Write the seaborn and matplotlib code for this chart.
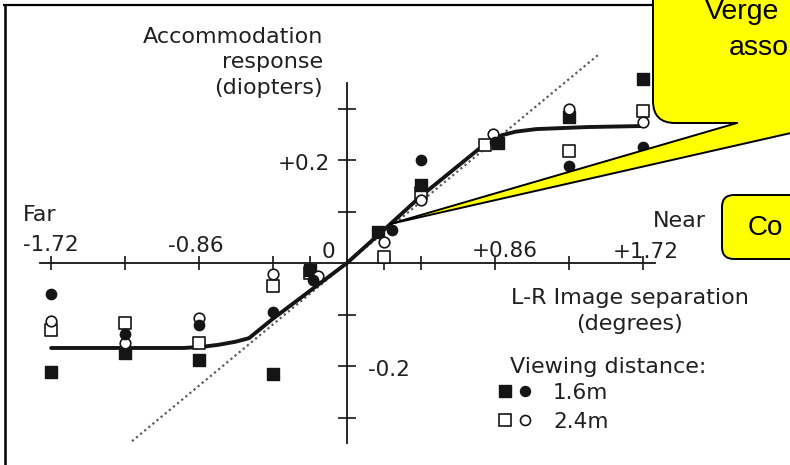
import matplotlib
matplotlib.use("Agg")
import matplotlib.pyplot as plt
from matplotlib.patches import FancyBboxPatch, Polygon
from matplotlib.lines import Line2D
from matplotlib.legend_handler import HandlerTuple
import seaborn as sns

# ---- data: accommodation response (D) vs L-R image separation (deg) ----
# 1.6 m viewing distance
sq16_x = [-1.72, -1.29, -0.86, -0.43, -0.215, 0.18, 0.43, 0.88, 1.29, 1.72]
sq16_y = [-0.211, -0.175, -0.188, -0.215, -0.013, 0.060, 0.151, 0.233, 0.284, 0.357]
ci16_x = [-1.72, -1.29, -0.86, -0.43, -0.20, 0.26, 0.43, 0.86, 1.29, 1.72]
ci16_y = [-0.060, -0.138, -0.120, -0.095, -0.033, 0.064, 0.200, 0.235, 0.188, 0.225]
# 2.4 m viewing distance
sq24_x = [-1.72, -1.29, -0.86, -0.43, -0.215, 0.215, 0.43, 0.80, 1.29, 1.72]
sq24_y = [-0.130, -0.117, -0.156, -0.045, -0.020, 0.012, 0.136, 0.229, 0.218, 0.295]
ci24_x = [-1.72, -1.29, -0.86, -0.43, -0.17, 0.215, 0.43, 0.85, 1.29, 1.72]
ci24_y = [-0.112, -0.155, -0.107, -0.022, -0.025, 0.041, 0.122, 0.250, 0.300, 0.274]

# fitted response curve
fit_x = [-1.72, -1.20, -0.95, -0.85, -0.75, -0.65, -0.57, -0.43, 0.0, 0.25,
         0.43, 0.78, 0.84, 0.90, 0.98, 1.10, 1.40, 1.72]
fit_y = [-0.165, -0.165, -0.165, -0.163, -0.159, -0.153, -0.146, -0.108, 0.0, 0.075,
         0.130, 0.225, 0.238, 0.248, 0.255, 0.260, 0.264, 0.266]

# accommodation fully following vergence
diag_x = [-1.25, 1.46]
diag_y = [-0.346, 0.404]

x_ticks = [-1.72, -1.29, -0.86, -0.43, -0.215, 0.215, 0.43, 0.86, 1.29, 1.72]
y_ticks = [-0.3, -0.2, -0.1, 0.1, 0.2, 0.3]

W, H = 790, 465
X0, Y0 = 347, 263          # origin position in pixels
SX, SY = 172, 515          # pixels per degree / per diopter

INK = "#151515"
TXT = "#202020"
YEL = "#FFFF00"

fig = plt.figure(figsize=(W / 100, H / 100), dpi=100)
fig.patch.set_facecolor("white")
ax = fig.add_axes([0, 0, 1, 1])
ax.set_xlim(-X0 / SX, (W - X0) / SX)
ax.set_ylim((Y0 - H) / SY, Y0 / SY)
ax.patch.set_alpha(0)

for s in ("top", "right"):
    ax.spines[s].set_visible(False)
ax.spines["left"].set_position(("data", 0))
ax.spines["bottom"].set_position(("data", 0))
ax.spines["left"].set_bounds(-0.35, 0.35)
ax.spines["bottom"].set_bounds((40 - X0) / SX, (655 - X0) / SX)
for s in ("left", "bottom"):
    ax.spines[s].set_linewidth(1.3)
    ax.spines[s].set_color(INK)
ax.set_xticks(x_ticks)
ax.set_yticks(y_ticks)
ax.tick_params(axis="x", direction="inout", length=10, width=1.2, color=INK,
               labelbottom=False)
ax.tick_params(axis="y", direction="inout", length=13, width=1.2, color=INK,
               labelleft=False)

sns.lineplot(x=diag_x, y=diag_y, color="#5a5a5a", linewidth=1.6,
             linestyle=(0, (1, 1.4)), ax=ax, zorder=2)
sns.lineplot(x=fit_x, y=fit_y, sort=False, estimator=None, color=INK,
             linewidth=2.8, ax=ax, zorder=2.5, solid_capstyle="round")

sns.scatterplot(x=sq24_x, y=sq24_y, marker="s", s=72, color="white",
                edgecolor=INK, linewidth=1.2, ax=ax, zorder=3)
sns.scatterplot(x=ci24_x, y=ci24_y, marker="o", s=58, color="white",
                edgecolor=INK, linewidth=1.2, ax=ax, zorder=3.2)
sns.scatterplot(x=sq16_x, y=sq16_y, marker="s", s=72, color=INK,
                edgecolor=INK, linewidth=1.0, ax=ax, zorder=3.1)
sns.scatterplot(x=ci16_x, y=ci16_y, marker="o", s=55, color=INK,
                edgecolor=INK, linewidth=1.0, ax=ax, zorder=3.3)

# ---- overlay in pixel coordinates for labels, frame and callouts ----
ov = fig.add_axes([0, 0, 1, 1], zorder=5)
ov.set_xlim(0, W)
ov.set_ylim(H, 0)
ov.axis("off")
ov.patch.set_alpha(0)

F = "DejaVu Sans"
def lab(x, y, s, size=16, ha="left"):
    ov.text(x, y, s, fontsize=size, family=F, color=TXT, ha=ha, va="baseline")

lab(323, 43, "Accommodation", ha="right")
lab(323, 68, "response", ha="right")
lab(323, 94, "(diopters)", ha="right")
lab(23, 221, "Far")
lab(653, 227, "Near")
lab(630, 304, "L-R Image separation", ha="center")
lab(630, 330, "(degrees)", ha="center")
lab(510, 373, "Viewing distance:")

lab(23, 251, "-1.72", 15.5)
lab(168, 252, "-0.86", 15.5)
lab(322, 258, "0", 15.5)
lab(472, 257, "+0.86", 15.5)
lab(613, 258, "+1.72", 15.5)
lab(330, 170, "+0.2", 15.5, ha="right")
lab(368, 376, "-0.2", 15.5)

# legend for the two viewing distances
h16 = (Line2D([], [], marker="s", ms=8.6, mfc=INK, mec=INK, ls="none"),
       Line2D([], [], marker="o", ms=7.2, mfc=INK, mec=INK, ls="none"))
h24 = (Line2D([], [], marker="s", ms=8.6, mfc="white", mec=INK, mew=1.2, ls="none"),
       Line2D([], [], marker="o", ms=7.2, mfc="white", mec=INK, mew=1.2, ls="none"))
leg = ov.legend([h16, h24], ["1.6m", "2.4m"],
                handler_map={tuple: HandlerTuple(ndivide=None, pad=0)},
                loc="upper left", bbox_to_anchor=(495 / W, 1 - 383 / H),
                frameon=False, borderpad=0, borderaxespad=0,
                handlelength=1.85, handletextpad=0.85, labelspacing=0.4,
                prop={"family": F, "size": 15.5})
for t in leg.get_texts():
    t.set_color(TXT)

# frame
ov.plot([3, 655], [5, 5], color="black", lw=1.6, solid_capstyle="butt")
ov.plot([4.5, 4.5], [4, H], color="black", lw=1.8, solid_capstyle="butt")

# big callout with pointer
big = FancyBboxPatch((653, -80), 400, 203, boxstyle="round,pad=0,rounding_size=22",
                     facecolor=YEL, edgecolor="black", lw=1.4, zorder=6)
ov.add_patch(big)
tip = (390, 224)
tail = Polygon([tip, (737, 123), (737, 115), (840, 115), (835, 123)],
               closed=True, facecolor=YEL, edgecolor="none", zorder=6.5)
ov.add_patch(tail)
ov.plot([tip[0], 737], [tip[1], 123], color="black", lw=1.4, zorder=7)
ov.plot([tip[0], 835], [tip[1], 123], color="black", lw=1.4, zorder=7)
ov.text(705, 19, "Verge", fontsize=20.5, family="Liberation Sans", color="black",
        va="baseline", zorder=8)
ov.text(729, 55, "asso", fontsize=20.5, family="Liberation Sans", color="black",
        va="baseline", zorder=8)

# small callout
small = FancyBboxPatch((722, 195), 200, 64, boxstyle="round,pad=0,rounding_size=12",
                       facecolor=YEL, edgecolor="black", lw=1.4, zorder=6)
ov.add_patch(small)
ov.text(748, 235, "Co", fontsize=20, family="Liberation Sans", color="black",
        va="baseline", zorder=8)

fig.savefig("out.png", dpi=100)
